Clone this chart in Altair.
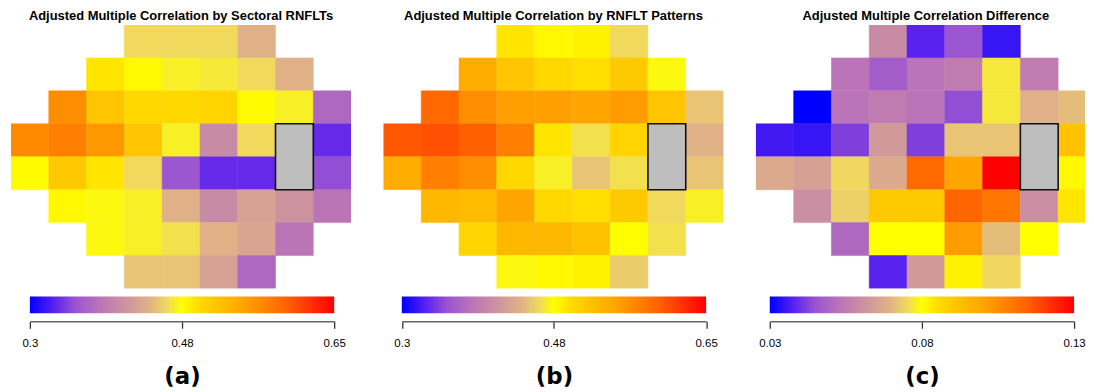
import altair as alt
import pandas as pd

# first / last column of the visual-field grid in each of the 8 rows
ROW_SPANS = [(4, 7), (3, 8), (2, 9), (1, 9), (1, 9), (2, 9), (3, 8), (4, 7)]
BLIND_COL = 8
BLIND_ROWS = (4, 5)

TITLES = [
    "Adjusted Multiple Correlation by Sectoral RNFLTs",
    "Adjusted Multiple Correlation by RNFLT Patterns",
    "Adjusted Multiple Correlation Difference",
]
TAGS = ["(a)", "(b)", "(c)"]

VALS_A = [
    [0.458, 0.458, 0.458, 0.437],
    [0.489, 0.478, 0.468, 0.465, 0.458, 0.437],
    [0.563, 0.514, 0.496, 0.496, 0.500, 0.477, 0.468, 0.370],
    [0.566, 0.573, 0.556, 0.514, 0.468, 0.402, 0.458, None, 0.332],
    [0.477, 0.510, 0.489, 0.458, 0.353, 0.332, 0.332, None, 0.349],
    [0.479, 0.472, 0.468, 0.437, 0.402, 0.423, 0.409, 0.381],
    [0.472, 0.468, 0.461, 0.437, 0.426, 0.381],
    [0.447, 0.447, 0.423, 0.370],
]
VALS_B = [
    [0.489, 0.479, 0.482, 0.458],
    [0.538, 0.514, 0.496, 0.493, 0.510, 0.472],
    [0.591, 0.563, 0.549, 0.549, 0.545, 0.552, 0.514, 0.447],
    [0.601, 0.606, 0.597, 0.573, 0.489, 0.461, 0.500, None, 0.437],
    [0.538, 0.573, 0.563, 0.496, 0.468, 0.447, 0.461, None, 0.447],
    [0.528, 0.524, 0.545, 0.496, 0.493, 0.510, 0.458, 0.468],
    [0.500, 0.528, 0.528, 0.517, 0.476, 0.461],
    [0.472, 0.479, 0.482, 0.451],
]
VALS_C = [
    [0.059, 0.038, 0.045, 0.035],
    [0.053, 0.047, 0.053, 0.055, 0.077, 0.055],
    [0.030, 0.053, 0.055, 0.053, 0.044, 0.077, 0.069, 0.071],
    [0.036, 0.035, 0.042, 0.063, 0.042, 0.072, 0.072, None, 0.092],
    [0.067, 0.065, 0.075, 0.067, 0.113, 0.100, 0.130, None, 0.081],
    [0.060, 0.074, 0.090, 0.090, 0.114, 0.110, 0.060, 0.084],
    [0.050, 0.080, 0.080, 0.102, 0.071, 0.080],
    [0.038, 0.063, 0.082, 0.075],
]
RANGES = [(0.30, 0.65), (0.30, 0.65), (0.03, 0.13)]
TICK_LABELS = [["0.3", "0.48", "0.65"], ["0.3", "0.48", "0.65"], ["0.03", "0.08", "0.13"]]

# colour ramp: relative stop positions and colours
STOPS = [0.0, 0.08, 0.15, 0.24, 0.33, 0.39, 0.45, 0.5, 0.56, 0.7, 0.84, 1.0]
COLORS = ["#0000FF", "#5A22EE", "#9B55D0", "#BE78B4", "#D09A9A", "#E0B088",
          "#F0D860", "#FFFF00", "#FFD800", "#FFA500", "#FF6500", "#FF0000"]

GRADIENT = alt.LinearGradient(
    gradient="linear", x1=0, x2=1, y1=0, y2=0,
    stops=[alt.GradientStop(offset=s, color=c) for s, c in zip(STOPS, COLORS)],
)

CELL_W = 342 / 9
HEAT_WIDTHS = [342, 342, 331]   # the last panel is cut at the right edge
BAR_LEFT = [19, 18.5, 14]       # colour-bar start inside each panel
BAR_W = 306
TITLE_DX = [0, 0, 5.5]


def panel(title, vals, rng, labels, tag, hw, bl, tdx):
    lo, hi = rng
    mid = (lo + hi) / 2
    recs = []
    for r, (c0, c1) in enumerate(ROW_SPANS, start=1):
        for k, c in enumerate(range(c0, c1 + 1)):
            v = vals[r - 1][k]
            if v is None:
                continue
            recs.append({"row": r, "col": c, "value": v})
    df = pd.DataFrame(recs)
    dom = [lo + s * (hi - lo) for s in STOPS]
    cscale = alt.Scale(domain=dom, range=COLORS, interpolate="rgb", clamp=True)
    xs = alt.Scale(domain=[0.5, 0.5 + hw / CELL_W], nice=False, zero=False)
    ys = alt.Scale(domain=[0.5, 8.5], nice=False, zero=False, reverse=True)

    cells = alt.Chart(df).transform_calculate(
        x0="datum.col - 0.5", x1="datum.col + 0.5",
        y0="datum.row - 0.5", y1="datum.row + 0.5",
    ).mark_rect(strokeWidth=0.5, clip=True).encode(
        x=alt.X("x0:Q", scale=xs, axis=None), x2="x1:Q",
        y=alt.Y("y0:Q", scale=ys, axis=None), y2="y1:Q",
        color=alt.Color("value:Q", scale=cscale, legend=None),
        stroke=alt.Stroke("value:Q", scale=cscale, legend=None),
    )
    bdf = pd.DataFrame([{"col": BLIND_COL, "r0": BLIND_ROWS[0], "r1": BLIND_ROWS[1]}])
    blind = alt.Chart(bdf).transform_calculate(
        x0="datum.col - 0.5", x1="datum.col + 0.5",
        y0="datum.r0 - 0.5", y1="datum.r1 + 0.5",
    ).mark_rect(fill="#BEBEBE", stroke="#111111", strokeWidth=1.6, clip=True).encode(
        x=alt.X("x0:Q", scale=xs, axis=None), x2="x1:Q",
        y=alt.Y("y0:Q", scale=ys, axis=None), y2="y1:Q",
    )
    heat = alt.layer(cells, blind).properties(
        width=hw, height=265,
        title=alt.TitleParams(text=title, font="Liberation Sans", fontSize=13,
                              fontWeight="bold", color="black", anchor="middle",
                              baseline="top", offset=2, dx=tdx),
    )

    lab_expr = (f"datum.value < {mid - (hi - lo) * 0.01} ? '{labels[0]}' : "
                f"datum.value < {hi - (hi - lo) * 0.01} ? '{labels[1]}' : '{labels[2]}'")
    bar = alt.Chart(pd.DataFrame({"lo": [lo], "hi": [hi]})).mark_rect(
        color=GRADIENT
    ).encode(
        x=alt.X("lo:Q",
                scale=alt.Scale(domain=[lo, hi], range=[bl, bl + BAR_W], nice=False, zero=False),
                axis=alt.Axis(values=[lo, mid, hi], labelExpr=lab_expr, title=tag,
                              titleFont="DejaVu Sans", titleFontSize=23,
                              titleFontWeight="bold", titleColor="black",
                              titlePadding=17, offset=8, domainColor="#666666",
                              domainWidth=1.5, tickColor="#333333", tickWidth=1.3,
                              tickSize=7, labelFont="Liberation Sans",
                              labelFontSize=11.5, labelColor="black", labelPadding=9,
                              grid=False, labelFlush=False, labelOverlap=False)),
        x2="hi:Q",
        y=alt.value(0), y2=alt.value(17),
    ).properties(width=hw, height=17)

    return alt.vconcat(heat, bar, spacing=8, bounds="flush")


panels = [panel(*args) for args in
          zip(TITLES, [VALS_A, VALS_B, VALS_C], RANGES, TICK_LABELS, TAGS,
              HEAT_WIDTHS, BAR_LEFT, TITLE_DX)]

chart = alt.hconcat(*panels, spacing=30.5).resolve_scale(
    color="independent", stroke="independent"
).properties(
    padding={"left": 2, "top": 0, "right": 0, "bottom": 0},
    background="white",
).configure_view(stroke="transparent")

chart.save("out.html", embed_options={"renderer": "svg", "actions": False})
